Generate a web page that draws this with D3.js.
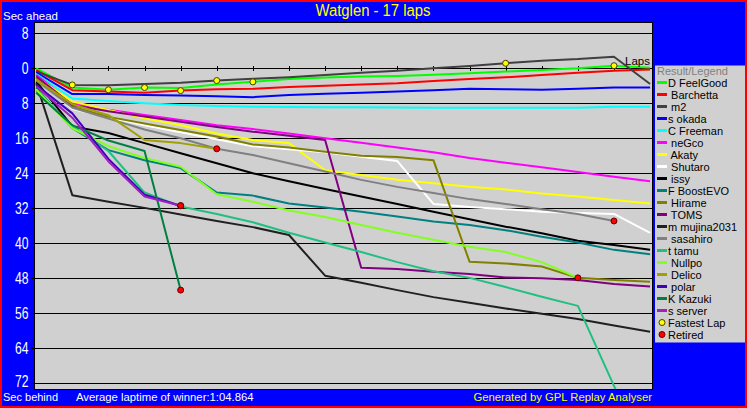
<!DOCTYPE html>
<html><head><meta charset="utf-8">
<script src="https://cdn.jsdelivr.net/npm/d3@7"></script>
<style>
body{margin:0;background:#ff0000;overflow:hidden}
svg{display:block}
text{font-family:'Liberation Sans',Arial,sans-serif}
</style>
</head><body>
<svg id="c" width="747" height="408"></svg>
<script>
// ---------- data ----------
const title = "Watglen - 17 laps";
const laps = d3.range(0, 18);
const drivers = ["D FeelGood"," Barchetta"," m2","s okada","C Freeman"," neGco"," Akaty"," Shutaro"," issy","F BoostEVO"," Hirame"," TOMS","m mujina2031"," sasahiro","t tamu"," Nullpo"," Delico"," polar","K Kazuki","s server"];
const colors = ["#00ff00","#ff0000","#404040","#0000ff","#00ffff","#ff00ff","#ffff00","#ffffff","#000000","#008080","#808000","#800080","#202020","#808080","#20c080","#80ff20","#a0a000","#4000c0","#008040","#a020c0"];

// seconds behind (positive) / ahead (negative) at each lap 0..17
const gapFeelGood = [0, 4.4, 4.9, 4.4, 4.5, 3.7, 3.1, 2.45, 2.1, 1.9, 1.75, 1.5, 1.15, 0.75, 0.4, 0.0, -0.6, -0.15];
const gapBarchetta = [0.4, 5.0, 5.3, 5.6, 5.1, 4.8, 4.7, 4.3, 4.0, 3.7, 3.4, 2.9, 2.45, 2.05, 1.55, 1.0, 0.55, 0.25];
const gapM2 = [0.7, 3.8, 3.9, 3.6, 3.3, 2.8, 2.4, 2.05, 1.55, 1.0, 0.55, 0.0, -0.5, -1.15, -1.75, -2.1, -2.65, 3.6];
const gapOkada = [0.9, 5.9, 5.9, 6.1, 6.2, 6.4, 6.6, 6.1, 5.8, 5.6, 5.3, 5.0, 4.7, 4.8, 4.9, 4.7, 4.4, 4.4];
const gapFreeman = [1.3, 6.9, 7.5, 8.0, 8.4, 8.6, 8.8, 8.85, 8.9, 8.9, 8.95, 9.0, 9.0, 9.0, 9.0, 9.0, 8.8, 8.8];
const gapNeGco = [1.5, 8.0, 9.5, 10.7, 11.8, 13.0, 13.9, 14.9, 16.0, 17.0, 18.1, 19.2, 20.5, 21.6, 22.6, 23.7, 24.8, 25.8];
const gapAkaty = [2.0, 7.6, 9.5, 11.4, 13.0, 14.9, 16.4, 17.1, 23.3, 24.4, 25.5, 26.3, 27.1, 27.7, 28.6, 29.3, 30.1, 30.9];
const gapShutaro = [2.4, 9.3, 11.2, 13.0, 14.6, 16.2, 17.8, 18.5, 19.2, 20.2, 21.2, 31.0, 31.7, 32.2, 32.8, 33.1, 33.3, 37.6];
const gapIssy = [3.0, 13.3, 14.8, 17.1, 19.4, 21.7, 24.0, 25.8, 27.6, 29.3, 31.0, 32.8, 34.5, 36.2, 37.7, 39.4, 40.4, 41.5];
const gapBoostEVO = [4.4, 13.7, 18.7, 21.0, 22.8, 28.4, 29.1, 30.9, 31.8, 32.8, 33.9, 35.0, 35.8, 37.0, 38.5, 39.8, 41.5, 42.5];
const gapHirame = [2.2, 8.8, 11.1, 12.6, 14.1, 15.6, 17.4, 18.1, 19.1, 20.0, 20.3, 21.0, 44.2, 44.6, 45.3, 47.9, 48.4, 48.8];
const gapTOMS = [1.8, 8.4, 9.8, 11.0, 12.2, 13.4, 14.5, 15.4, 16.4, 45.6, 45.9, 46.5, 47.0, 47.8, 48.0, 48.4, 49.3, 49.9];
const gapMujina = [3.4, 29.0, 30.5, 31.9, 33.4, 34.9, 36.3, 38.1, 47.4, 49.0, 50.7, 52.3, 53.6, 54.9, 56.1, 57.3, 58.8, 60.2];
const gapSasahiro = [2.8, 9.0, 11.5, 14.0, 16.0, 18.4, 19.8, 21.7, 23.6, 25.5, 27.1, 28.5, 29.9, 31.0, 32.2, 33.3, 34.9];
const gapTamu = [5.2, 13.2, 18.9, 28.4, 31.6, 33.3, 35.2, 37.6, 39.8, 42.0, 44.3, 46.4, 47.9, 50.0, 52.2, 54.3, 72.6, 90];
const gapNullpo = [4.8, 13.7, 17.8, 20.5, 22.5, 28.8, 30.5, 32.5, 34.0, 35.8, 37.6, 39.2, 40.8, 42.0, 44.3, 47.9];
const gapDelico = [2.6, 8.2, 10.7, 16.4, 17.1, 18.4];
const gapPolar = [3.8, 10.3, 20.7, 28.9, 31.4];
const gapKazuki = [5.6, 13.0, 16.5, 18.9, 50.7];
const gapServer = [4.1, 11.3, 21.3, 29.3, 31.4];

const retiredDrivers = [" sasahiro"," Nullpo"," Delico"," polar","K Kazuki","s server"];
const fastestDriver = [" m2","D FeelGood","D FeelGood"," Barchetta"," m2","D FeelGood"," m2","D FeelGood"];
const fastestLap = [1, 2, 3, 4, 5, 6, 13, 16];

const yTicks = [-8, 0, 8, 16, 24, 32, 40, 48, 56, 64, 72];
const yTickLabels = ["8","0","8","16","24","32","40","48","56","64","72"];
const footLeft = "Sec behind";
const footMid = "Average laptime of winner:1:04.864";
const footRight = "Generated by GPL Replay Analyser";

const gaps = [gapFeelGood,gapBarchetta,gapM2,gapOkada,gapFreeman,gapNeGco,gapAkaty,gapShutaro,gapIssy,gapBoostEVO,gapHirame,gapTOMS,gapMujina,gapSasahiro,gapTamu,gapNullpo,gapDelico,gapPolar,gapKazuki,gapServer];
const series = drivers.map((d,i)=>({name:d, color:colors[i], values:gaps[i].map((v,j)=>({lap:laps[j], gap:v}))}));

// ---------- drawing ----------
const svg = d3.select("#c");
svg.append("rect").attr("width",747).attr("height",408).attr("fill","#ff0000");
svg.append("rect").attr("x",2).attr("y",2).attr("width",743).attr("height",404).attr("fill","#0000ff");

const P = {x0:34, x1:652, y0:22, y1:389};
const x = d3.scaleLinear().domain([0,17]).range([36.2,650.1]);
const y = d3.scaleLinear().domain([0,72]).range([68.3,383.3]);

svg.append("rect").attr("x",P.x0+0.5).attr("y",P.y0+0.5).attr("width",P.x1-P.x0).attr("height",P.y1-P.y0)
  .attr("fill","#d0d0d0").attr("stroke","#000").attr("stroke-width",1).attr("shape-rendering","crispEdges");

// gridlines + left ticks
svg.append("g").selectAll("line").data(yTicks).join("line")
  .attr("x1",31).attr("x2",P.x1).attr("y1",d=>Math.round(y(d))+0.5).attr("y2",d=>Math.round(y(d))+0.5)
  .attr("stroke","#000").attr("stroke-width",1).attr("shape-rendering","crispEdges");

// lap ticks on zero line
svg.append("g").selectAll("line").data(laps.filter(l=>l>0 && l<17)).join("line")
  .attr("x1",d=>Math.round(x(d))+0.5).attr("x2",d=>Math.round(x(d))+0.5)
  .attr("y1",Math.round(y(0))-2).attr("y2",Math.round(y(0))+3)
  .attr("stroke","#000").attr("shape-rendering","crispEdges");

// y labels
svg.append("g").selectAll("text").data(yTicks).join("text")
  .attr("transform",d=>`translate(28.5,${Math.min(y(d), 381.5)}) scale(0.76,1)`)
  .attr("text-anchor","end").attr("dy","0.36em").attr("font-size",16).attr("fill","#fff")
  .text((d,i)=>yTickLabels[i]);

svg.append("defs").append("clipPath").attr("id","clip").append("rect")
  .attr("x",P.x0+1).attr("y",P.y0+1).attr("width",P.x1-P.x0-1).attr("height",P.y1-P.y0-1);

const line = d3.line().x(d=>x(d.lap)).y(d=>y(d.gap));
const gl = svg.append("g").attr("clip-path","url(#clip)");
gl.selectAll("path").data(series).join("path")
  .attr("d",d=>line(d.values)).attr("fill","none").attr("stroke",d=>d.color)
  .attr("stroke-width",2).attr("stroke-linejoin","round");

// markers
const gm = svg.append("g").attr("clip-path","url(#clip)");
fastestDriver.forEach((dn,i)=>{
  const s = series.find(s=>s.name===dn);
  const v = s.values[fastestLap[i]];
  gm.append("circle").attr("cx",x(v.lap)).attr("cy",y(v.gap)).attr("r",3)
    .attr("fill","#ffff00").attr("stroke","#404000").attr("stroke-width",1);
});
retiredDrivers.forEach(dn=>{
  const s = series.find(s=>s.name===dn);
  const v = s.values[s.values.length-1];
  gm.append("circle").attr("cx",x(v.lap)).attr("cy",y(v.gap)).attr("r",3)
    .attr("fill","#ff0000").attr("stroke","#600000").attr("stroke-width",1);
});

// Laps label
svg.append("text").attr("x",650).attr("y",65).attr("text-anchor","end").attr("font-size",11.5).attr("fill","#000").text("Laps");

// title & captions
svg.append("text").attr("transform","translate(373,16) scale(0.9,1)").attr("text-anchor","middle")
  .attr("font-size",16.5).attr("fill","#ffff00").text(title);
svg.append("text").attr("x",3).attr("y",20).attr("font-size",11.5).attr("fill","#fff").text("Sec ahead");
svg.append("text").attr("x",3).attr("y",400.5).attr("font-size",11).attr("fill","#fff").text(footLeft);
svg.append("text").attr("x",76).attr("y",400.5).attr("font-size",11.3).attr("fill","#fff").text(footMid);
svg.append("text").attr("x",652).attr("y",400.5).attr("text-anchor","end").attr("font-size",11.3).attr("fill","#ffff00").text(footRight);

// legend
const L = svg.append("g");
L.append("rect").attr("x",655).attr("y",65.5).attr("width",90).attr("height",277).attr("fill","#d0d0d0");
L.append("text").attr("x",657).attr("y",74.5).attr("font-size",11).attr("fill","#808080").text("Result/Legend");
const rowY = i => 82.5 + 12*i;
series.forEach((s,i)=>{
  L.append("line").attr("x1",657).attr("x2",667).attr("y1",rowY(i)).attr("y2",rowY(i))
    .attr("stroke",s.color).attr("stroke-width",3);
  L.append("text").attr("x",668).attr("y",rowY(i)+4).attr("font-size",11).attr("fill","#000")
    .style("white-space","pre").text(s.name);
});
const nf = series.length;
L.append("circle").attr("cx",662).attr("cy",rowY(nf)).attr("r",3).attr("fill","#ffff00").attr("stroke","#404000");
L.append("text").attr("x",668).attr("y",rowY(nf)+4).attr("font-size",11).attr("fill","#000").text("Fastest Lap");
L.append("circle").attr("cx",662).attr("cy",rowY(nf+1)).attr("r",3).attr("fill","#ff0000").attr("stroke","#600000");
L.append("text").attr("x",668).attr("y",rowY(nf+1)+4).attr("font-size",11).attr("fill","#000").text("Retired");
</script>
</body></html>
